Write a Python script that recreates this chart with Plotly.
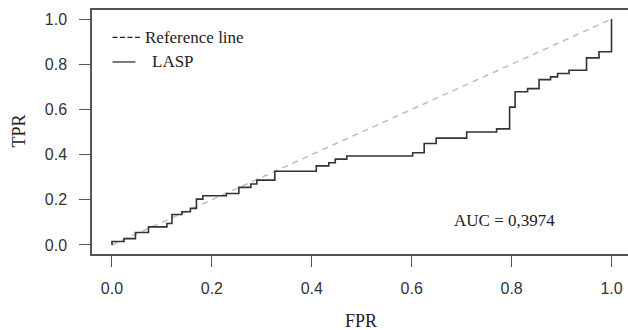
import plotly.graph_objects as go

# ROC step curve corner points (hv steps)
fpr = [0.0, 0.0, 0.024, 0.047, 0.073, 0.11, 0.12, 0.14, 0.157, 0.169, 0.182,
       0.229, 0.254, 0.278, 0.29, 0.326, 0.409, 0.434, 0.447, 0.47, 0.602,
       0.625, 0.649, 0.71, 0.77, 0.796, 0.807, 0.832, 0.855, 0.878, 0.892,
       0.915, 0.95, 0.975, 1.0]
tpr = [0.0, 0.015, 0.028, 0.055, 0.08, 0.095, 0.135, 0.147, 0.162, 0.203, 0.218,
       0.228, 0.255, 0.27, 0.287, 0.326, 0.35, 0.364, 0.38, 0.394, 0.408,
       0.449, 0.473, 0.5, 0.514, 0.61, 0.678, 0.692, 0.732, 0.744, 0.759,
       0.773, 0.828, 0.855, 1.0]
ref_x = [0.0, 1.0]
ref_y = [0.0, 1.0]
tick_vals = [0.0, 0.2, 0.4, 0.6, 0.8, 1.0]
tick_text = ["0.0", "0.2", "0.4", "0.6", "0.8", "1.0"]
legend_labels = ["Reference line", "LASP"]
auc_text = "AUC = 0,3974"

W, H = 628, 330
L, R, T, B = 91.5, 0, 10, 76
PW, PH = W - L - R, H - T - B

serif = "Liberation Serif, Times New Roman, serif"
sans = "Liberation Sans, Arial, sans-serif"

fig = go.Figure()
fig.add_trace(go.Scatter(x=ref_x, y=ref_y, mode="lines",
                         line=dict(color="#bdbdbd", width=1.5, dash="6px,5px"),
                         hoverinfo="skip", showlegend=False))
fig.add_trace(go.Scatter(x=fpr, y=tpr, mode="lines", line_shape="hv",
                         line=dict(color="#333333", width=1.6),
                         showlegend=False))

# manual legend (samples drawn in black like the original)
fig.add_shape(type="line", xref="x", yref="y", x0=0.001, x1=0.057, y0=0.919, y1=0.919,
              line=dict(color="#222222", width=1.2, dash="5px,2.5px"))
fig.add_shape(type="line", xref="x", yref="y", x0=0.001, x1=0.047, y0=0.81, y1=0.81,
              line=dict(color="#222222", width=1.2))
fig.add_annotation(x=0.063, y=0.919, xref="x", yref="y", text=legend_labels[0],
                   showarrow=False, xanchor="left", yanchor="middle",
                   font=dict(family=serif, size=17, color="#222222"))
fig.add_annotation(x=0.077, y=0.81, xref="x", yref="y", text=legend_labels[1],
                   showarrow=False, xanchor="left", yanchor="middle",
                   font=dict(family=serif, size=17, color="#222222"))
fig.add_annotation(x=0.681, y=0.11, xref="x", yref="y", text=auc_text,
                   showarrow=False, xanchor="left", yanchor="middle",
                   font=dict(family=serif, size=17, color="#222222"))

# axis titles (paper coords span the plot area)
fig.add_annotation(x=(361 - L) / PW, y=(H - B - 321) / PH, xref="paper", yref="paper",
                   text="FPR", showarrow=False, xanchor="center", yanchor="middle",
                   font=dict(family=serif, size=18, color="#222222"))
fig.add_annotation(x=(18 - L) / PW, y=(H - B - 131) / PH, xref="paper", yref="paper",
                   text="TPR", showarrow=False, textangle=-90,
                   xanchor="center", yanchor="middle",
                   font=dict(family=serif, size=18, color="#222222"))

fig.update_layout(
    width=W, height=H,
    margin=dict(l=L, r=R, t=T, b=B),
    plot_bgcolor="white", paper_bgcolor="white",
    showlegend=False,
)
fig.update_xaxes(range=[-0.04, 1.033], showgrid=False, zeroline=False,
                 showline=True, mirror=True, linecolor="#555555", linewidth=1.5,
                 ticks="outside", ticklen=11, tickwidth=1.3, tickcolor="#555555",
                 tickvals=tick_vals, ticktext=tick_text, ticklabelstandoff=8,
                 tickfont=dict(family=sans, size=16, color="#333333"))
fig.update_yaxes(range=[-0.04, 1.04], showgrid=False, zeroline=False,
                 showline=True, mirror=False, linecolor="#555555", linewidth=1.5,
                 ticks="outside", ticklen=11, tickwidth=1.3, tickcolor="#555555",
                 tickvals=tick_vals, ticktext=tick_text, ticklabelstandoff=9,
                 tickfont=dict(family=sans, size=16, color="#333333"))

fig.write_html("out.html")
